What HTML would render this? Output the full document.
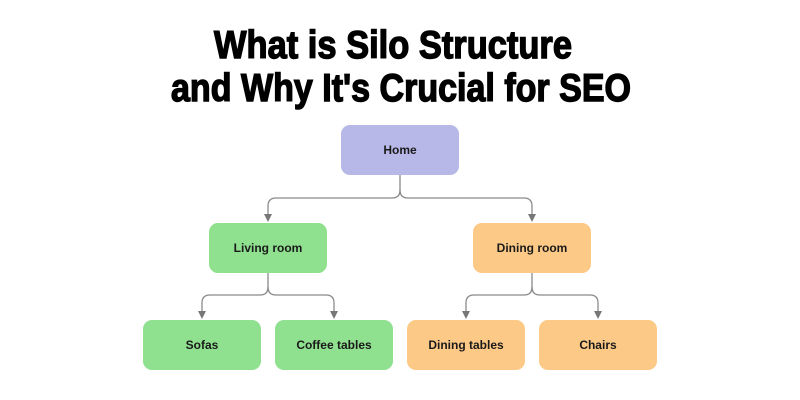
<!DOCTYPE html>
<html><head><meta charset="utf-8"><style>
html,body{margin:0;padding:0;background:#fff;}
svg{display:block;}
</style></head><body>
<svg width="800" height="400" viewBox="0 0 800 400" xmlns="http://www.w3.org/2000/svg">
<rect width="800" height="400" fill="#fff"/>
<g font-family="Liberation Sans, sans-serif" font-weight="bold" fill="#000" stroke="#000" stroke-width="1.4">
<text x="214" y="58" font-size="39" textLength="358" lengthAdjust="spacingAndGlyphs">What is Silo Structure</text>
<text x="171" y="101" font-size="39" textLength="460" lengthAdjust="spacingAndGlyphs">and Why It's Crucial for SEO</text>
</g>
<g fill="none" stroke="#8a8a8a" stroke-width="1.3">
<path d="M400 175 V190 Q400 198 392 198 H276 Q268 198 268 206 V214"/>
<path d="M400 190 Q400 198 408 198 H524 Q532 198 532 206 V214"/>
<path d="M268 273 V287 Q268 295 260 295 H210 Q202 295 202 303 V311"/>
<path d="M268 287 Q268 295 276 295 H326 Q334 295 334 303 V311"/>
<path d="M532 273 V287 Q532 295 524 295 H474 Q466 295 466 303 V311"/>
<path d="M532 287 Q532 295 540 295 H590 Q598 295 598 303 V311"/>
</g>
<g fill="#777">
<polygon points="264,214 272,214 268,222"/>
<polygon points="528,214 536,214 532,222"/>
<polygon points="198,311 206,311 202,319"/>
<polygon points="330,311 338,311 334,319"/>
<polygon points="462,311 470,311 466,319"/>
<polygon points="594,311 602,311 598,319"/>
</g>
<rect x="341" y="125" width="118" height="50" rx="9" fill="#b8b8e8"/>
<rect x="209" y="223" width="118" height="50" rx="9" fill="#8fe08f"/>
<rect x="473" y="223" width="118" height="50" rx="9" fill="#fdc986"/>
<rect x="143" y="320" width="118" height="50" rx="9" fill="#8fe08f"/>
<rect x="275" y="320" width="118" height="50" rx="9" fill="#8fe08f"/>
<rect x="407" y="320" width="118" height="50" rx="9" fill="#fdc986"/>
<rect x="539" y="320" width="118" height="50" rx="9" fill="#fdc986"/>
<g font-family="Liberation Sans, sans-serif" font-weight="bold" font-size="12" fill="#1a1a1a" text-anchor="middle">
<text x="400" y="154">Home</text>
<text x="268" y="252">Living room</text>
<text x="532" y="252">Dining room</text>
<text x="202" y="349">Sofas</text>
<text x="334" y="349">Coffee tables</text>
<text x="466" y="349">Dining tables</text>
<text x="598" y="349">Chairs</text>
</g>
</svg>
</body></html>
